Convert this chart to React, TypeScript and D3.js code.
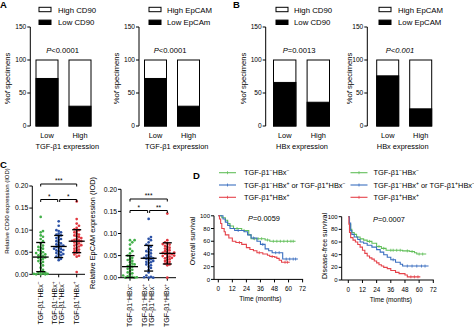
import React from 'react';
import * as d3 from 'd3';

const FONT = '"Liberation Sans", Arial, Helvetica, sans-serif';
const GREEN = '#43b04a';
const BLUE = '#2c52a6';
const RED = '#e2373f';
const KM_GREEN = '#62bf5a';
const KM_BLUE = '#3b6fc0';
const KM_RED = '#e5434b';

// ---------- Panels A & B ----------
const barCategories = ['Low', 'High'];
const barTicks = [0, 50, 100, 150];
const aCd90LowPct = [72, 30];
const aEpcamLowPct = [72, 30];
const bCd90LowPct = [66, 36];
const bEpcamLowPct = [76, 26];

// ---------- Panel C ----------
const cTicks = [0, 0.05, 0.1, 0.15, 0.2];
const cTickLabels = ['0.00', '0.05', '0.10', '0.15', '0.20'];
const cGroupLabels = [['TGF-β1^-HBx^-'], ['TGF-β1^-HBx^+', 'TGF-β1^+HBx^-'], ['TGF-β1^+HBx^+']];
const cd90Green = [0.130, 0.098, 0.095, 0.088, 0.085, 0.080, 0.075, 0.070, 0.065, 0.062, 0.060, 0.058, 0.055, 0.053, 0.050, 0.048, 0.047, 0.045, 0.043, 0.042, 0.040, 0.038, 0.037, 0.035, 0.033, 0.030, 0.028, 0.025, 0.020, 0.015, 0.010, 0.006, 0.004, 0.003, 0.002, 0.001, 0.001, 0.000, 0.000, 0.000];
const cd90Blue = [0.120, 0.110, 0.100, 0.098, 0.095, 0.092, 0.090, 0.088, 0.085, 0.082, 0.080, 0.078, 0.075, 0.072, 0.070, 0.068, 0.066, 0.065, 0.063, 0.062, 0.060, 0.058, 0.057, 0.055, 0.054, 0.052, 0.050, 0.048, 0.046, 0.045, 0.043, 0.040, 0.038, 0.035, 0.032];
const cd90Red = [0.165, 0.125, 0.115, 0.110, 0.105, 0.102, 0.100, 0.098, 0.095, 0.092, 0.090, 0.088, 0.086, 0.084, 0.082, 0.080, 0.078, 0.077, 0.076, 0.075, 0.074, 0.072, 0.070, 0.068, 0.066, 0.065, 0.063, 0.060, 0.058, 0.056, 0.054, 0.052, 0.050, 0.048, 0.045, 0.042, 0.040, 0.005];
const epGreen = [0.085, 0.085, 0.080, 0.075, 0.065, 0.060, 0.055, 0.050, 0.048, 0.045, 0.042, 0.040, 0.038, 0.035, 0.032, 0.030, 0.028, 0.026, 0.025, 0.022, 0.020, 0.018, 0.015, 0.012, 0.010, 0.008, 0.005, 0.003, 0.002, 0.001, 0.000, 0.000, 0.000];
const epBlue = [0.133, 0.092, 0.088, 0.085, 0.080, 0.075, 0.072, 0.070, 0.065, 0.062, 0.060, 0.058, 0.055, 0.052, 0.050, 0.048, 0.046, 0.045, 0.044, 0.043, 0.042, 0.040, 0.038, 0.036, 0.035, 0.033, 0.030, 0.028, 0.025, 0.022, 0.018, 0.012, 0.005, 0.002, 0.001, 0.000, 0.000];
const epRed = [0.145, 0.085, 0.080, 0.078, 0.076, 0.075, 0.072, 0.070, 0.068, 0.066, 0.064, 0.062, 0.060, 0.058, 0.057, 0.056, 0.055, 0.054, 0.053, 0.052, 0.050, 0.049, 0.048, 0.046, 0.045, 0.044, 0.042, 0.040, 0.038, 0.036, 0.034, 0.032, 0.030, 0.028, 0.000];
const cd90Mean = [0.039, 0.063, 0.075];
const cd90Sd = [0.033, 0.025, 0.026];
const epMean = [0.025, 0.044, 0.055];
const epSd = [0.025, 0.029, 0.024];

// ---------- Panel D ----------
const kmXTicks = [0, 12, 24, 36, 48, 60, 72];
const kmYTicks = [0, 20, 40, 60, 80, 100];
const kmLegend = ['TGF-β1^-HBx^-', 'TGF-β1^-HBx^+ or TGF-β1^+HBx^-', 'TGF-β1^+HBx^+'];

const osGreenT = [0, 3, 6, 8, 10, 13, 20, 26, 28, 40, 44];
const osGreenS = [100, 97, 93, 88, 84, 80, 77, 70, 64, 62, 60];
const osGreenEnd = 66;
const osGreenC = [16, 22, 31, 34, 37, 42, 47, 50, 53, 56, 59, 62, 64];
const osBlueT = [0, 4, 6, 8, 10, 14, 22, 25, 28, 33, 36, 40, 43, 46, 55];
const osBlueS = [100, 95, 90, 85, 80, 77, 75, 70, 65, 60, 55, 48, 45, 42, 32];
const osBlueEnd = 68;
const osBlueC = [17, 30, 38, 49, 52, 58, 61, 64, 66];
const osRedT = [0, 1, 2, 3, 5, 6, 9, 12, 15, 20, 24, 27, 30, 33, 38, 42, 44, 48, 50, 52, 54];
const osRedS = [100, 95, 88, 80, 75, 70, 65, 60, 58, 55, 50, 47, 45, 42, 40, 38, 36, 35, 33, 30, 27];
const osRedEnd = 61;
const osRedC = [18, 35, 46, 57, 59];

const dfsGreenT = [0, 1, 2, 3, 5, 7, 10, 13, 16, 20, 24, 28, 32, 46, 52, 56, 58];
const dfsGreenS = [100, 88, 80, 75, 72, 68, 65, 63, 61, 58, 53, 50, 47, 46, 45, 43, 41];
const dfsGreenEnd = 66;
const dfsGreenC = [18, 26, 30, 36, 38, 41, 44, 50, 54, 60, 63];
const dfsBlueT = [0, 1, 2, 3, 5, 8, 10, 13, 16, 20, 24, 27, 30, 33, 36, 40, 44, 46];
const dfsBlueS = [100, 90, 78, 72, 68, 64, 60, 58, 55, 52, 48, 44, 40, 36, 32, 28, 25, 22];
const dfsBlueEnd = 68;
const dfsBlueC = [38, 50, 54, 58, 62, 65];
const dfsRedT = [0, 0.5, 1, 2, 4, 6, 8, 10, 12, 14, 16, 18, 20, 22, 24, 26, 28, 30, 33, 36, 40, 43, 48, 50];
const dfsRedS = [100, 88, 75, 67, 63, 60, 56, 52, 47, 42, 38, 35, 33, 30, 27, 24, 22, 20, 18, 15, 12, 10, 8, 5];
const dfsRedEnd = 61;
const dfsRedC = [53, 56, 59];

// ---------- helpers ----------
function Rich({ text, fs }: { text: string; fs: number }) {
  const parts = text.split(/(\^[+-])/).filter((p) => p !== '');
  let raised = false;
  return (
    <>
      {parts.map((p, i) => {
        if (p === '^+' || p === '^-') {
          const wasRaised = raised;
          raised = true;
          return (
            <tspan key={i} fontSize={fs * 0.68} dy={wasRaised ? 0 : -fs * 0.38}>
              {p[1] === '+' ? '+' : '−'}
            </tspan>
          );
        }
        const d = raised ? fs * 0.38 : 0;
        raised = false;
        return (
          <tspan key={i} dy={d}>
            {p}
          </tspan>
        );
      })}
    </>
  );
}

type BarProps = {
  axisX: number;
  band: [number, number];
  lowVals: number[];
  legendX: number;
  legendTextX: number;
  highLabel: string;
  lowLabel: string;
  p: React.ReactNode;
  pX: number;
  xTitle: string;
  xTitleX: number;
  yLabelX: number;
};

function BarPanel(props: BarProps) {
  const y = d3.scaleLinear().domain([0, 150]).range([126, 27]);
  const x = d3.scaleBand().domain(barCategories).range(props.band).paddingInner(1 / 3);
  const fsTick = 6.6;
  return (
    <g fontFamily={FONT} fill="#000">
      <rect x={props.legendX} y={7.3} width={12} height={4.4} fill="#fff" stroke="#000" strokeWidth={1} />
      <text x={props.legendTextX} y={12.6} fontSize={7.8}>{props.highLabel}</text>
      <rect x={props.legendX} y={20.1} width={12} height={4.4} fill="#000" stroke="#000" strokeWidth={1} />
      <text x={props.legendTextX} y={25.4} fontSize={7.8}>{props.lowLabel}</text>
      <line x1={props.axisX} x2={props.axisX} y1={y(0)} y2={y(150)} stroke="#000" strokeWidth={1} />
      {barTicks.map((t) => (
        <g key={t}>
          <line x1={props.axisX - 3} x2={props.axisX} y1={y(t)} y2={y(t)} stroke="#000" strokeWidth={1} />
          <text x={props.axisX - 4} y={y(t)} dy="0.35em" fontSize={fsTick} textAnchor="end">{t}</text>
        </g>
      ))}
      <text transform={`translate(${props.yLabelX},${(y(0) + y(150)) / 2 + 2}) rotate(-90)`} fontSize={7.6} textAnchor="middle">
        %<tspan fontStyle="italic">of</tspan> specimens
      </text>
      {barCategories.map((c, i) => (
        <g key={c}>
          <rect x={x(c)} y={y(100)} width={x.bandwidth()} height={y(0) - y(100)} fill="#fff" stroke="#000" strokeWidth={1} />
          <rect x={x(c)} y={y(props.lowVals[i])} width={x.bandwidth()} height={y(0) - y(props.lowVals[i])} fill="#000" stroke="#000" strokeWidth={1} />
          <text x={(x(c) as number) + x.bandwidth() / 2} y={137.5} fontSize={7.4} textAnchor="middle">{c}</text>
        </g>
      ))}
      <text x={props.pX} y={53} fontSize={7.6} textAnchor="middle">{props.p}</text>
      <text x={props.xTitleX} y={148.5} fontSize={7.4} textAnchor="middle">{props.xTitle}</text>
    </g>
  );
}

function swarm(values: number[], y: (v: number) => number, r: number, maxOff: number) {
  const items = values.map((v, i) => ({ v, i, y: y(v) })).sort((a, b) => b.y - a.y);
  const placed: { x: number; y: number }[] = [];
  const res: { x: number; y: number }[] = new Array(values.length);
  const step = r * 1.7;
  const minD = r * 1.75;
  for (const it of items) {
    let chosen = 0;
    let bestScore = Infinity;
    for (let k = 0; k < 30; k++) {
      const off = (k % 2 === 1 ? 1 : -1) * Math.ceil(k / 2) * step;
      if (Math.abs(off) > maxOff) break;
      let overlap = 0;
      for (const p of placed) {
        const d = Math.hypot(p.x - off, p.y - it.y);
        if (d < minD) overlap += minD - d;
      }
      if (overlap === 0) {
        chosen = off;
        bestScore = 0;
        break;
      }
      if (overlap < bestScore) {
        bestScore = overlap;
        chosen = off;
      }
    }
    placed.push({ x: chosen, y: it.y });
    res[it.i] = { x: chosen, y: it.y };
  }
  return res;
}

type Bracket = { from: number; to: number; y: number; text: string; gapL?: number; gapR?: number };

type ScatterProps = {
  axisX: number;
  xRange: [number, number];
  xAxisEnd: number;
  yRange: [number, number];
  groups: number[][];
  means: number[];
  sds: number[];
  brackets: Bracket[];
  labelCols: number[][];
  labelTop: number;
  yLabel: string;
  yLabelX: number;
  yLabelY: number;
  yLabelFs: number;
};

function ScatterPanel(props: ScatterProps) {
  const y = d3.scaleLinear().domain([0, 0.2]).range(props.yRange);
  const x = d3.scalePoint<number>().domain([0, 1, 2]).range(props.xRange);
  const colors = [GREEN, BLUE, RED];
  const fsLab = 7;
  return (
    <g fontFamily={FONT}>
      <line x1={props.axisX} x2={props.axisX} y1={y(0)} y2={y(0.2)} stroke="#000" strokeWidth={1} />
      <line x1={props.axisX} x2={props.xAxisEnd} y1={y(0)} y2={y(0)} stroke="#000" strokeWidth={1} />
      {cTicks.map((t, i) => (
        <g key={t}>
          <line x1={props.axisX - 3} x2={props.axisX} y1={y(t)} y2={y(t)} stroke="#000" strokeWidth={1} />
          <text x={props.axisX - 4} y={y(t)} dy="0.35em" fontSize={6.8} textAnchor="end">{cTickLabels[i]}</text>
        </g>
      ))}
      {[0, 1, 2].map((g) => (
        <line key={g} x1={x(g)} x2={x(g)} y1={y(0)} y2={y(0) + 3} stroke="#000" strokeWidth={1} />
      ))}
      <text transform={`translate(${props.yLabelX},${props.yLabelY}) rotate(-90)`} fontSize={props.yLabelFs} textAnchor="middle">
        {props.yLabel}
      </text>
      {props.groups.map((vals, g) => {
        const pos = swarm(vals, y, 1.35, 8);
        return (
          <g key={g}>
            {pos.map((p, i) => (
              <circle key={i} cx={(x(g) as number) + p.x} cy={p.y} r={1.35} fill={colors[g]} />
            ))}
          </g>
        );
      })}
      {props.means.map((m, g) => {
        const cx = x(g) as number;
        return (
          <g key={g} stroke="#000" strokeWidth={1.3}>
            <line x1={cx} x2={cx} y1={y(Math.max(0, m - props.sds[g]))} y2={y(m + props.sds[g])} />
            <line x1={cx - 8} x2={cx + 8} y1={y(m)} y2={y(m)} />
            <line x1={cx - 4.5} x2={cx + 4.5} y1={y(m + props.sds[g])} y2={y(m + props.sds[g])} />
            <line x1={cx - 4.5} x2={cx + 4.5} y1={y(Math.max(0, m - props.sds[g]))} y2={y(Math.max(0, m - props.sds[g]))} />
          </g>
        );
      })}
      {props.brackets.map((b, i) => {
        const x1 = (x(b.from) as number) + (b.gapL || 0);
        const x2 = (x(b.to) as number) - (b.gapR || 0);
        return (
          <g key={i}>
            <path d={`M${x1},${b.y + 2.5}V${b.y}H${x2}V${b.y + 2.5}`} fill="none" stroke="#000" strokeWidth={1} />
            <text x={(x1 + x2) / 2} y={b.y - 0.8} fontSize={6.5} textAnchor="middle">{b.text}</text>
          </g>
        );
      })}
      {props.labelCols.map((cols, g) =>
        cols.map((cx, j) => (
          <text key={`${g}-${j}`} transform={`translate(${cx + 2.4},${props.labelTop}) rotate(-90)`} fontSize={fsLab} textAnchor="end">
            <Rich text={cGroupLabels[g][j]} fs={fsLab} />
          </text>
        ))
      )}
    </g>
  );
}

type KMProps = {
  axisX: number;
  x0: number;
  x72: number;
  y0: number;
  y100: number;
  curves: { t: number[]; s: number[]; end: number; c: number[]; color: string }[];
  yLabel: string;
  yLabelX: number;
  yLabelY: number;
  pText: string;
  pX: number;
  pY: number;
};

function KMPanel(props: KMProps) {
  const x = d3.scaleLinear().domain([0, 72]).range([props.x0, props.x72]);
  const y = d3.scaleLinear().domain([0, 100]).range([props.y0, props.y100]);
  const line = d3
    .line<[number, number]>()
    .x((d) => x(d[0]))
    .y((d) => y(d[1]))
    .curve(d3.curveStepAfter);
  const sAt = (t: number[], s: number[], time: number) => {
    let v = s[0];
    for (let i = 0; i < t.length; i++) if (t[i] <= time) v = s[i];
    return v;
  };
  return (
    <g fontFamily={FONT}>
      <line x1={props.axisX} x2={props.axisX} y1={y(0)} y2={y(100)} stroke="#000" strokeWidth={1} />
      <line x1={props.axisX} x2={x(72) + 0.5} y1={y(0)} y2={y(0)} stroke="#000" strokeWidth={1} />
      {kmYTicks.map((t) => (
        <g key={t}>
          <line x1={props.axisX - 3} x2={props.axisX} y1={y(t)} y2={y(t)} stroke="#000" strokeWidth={1} />
          <text x={props.axisX - 4} y={y(t)} dy="0.35em" fontSize={6} textAnchor="end">{t}</text>
        </g>
      ))}
      {kmXTicks.map((t) => (
        <g key={t}>
          <line x1={x(t)} x2={x(t)} y1={y(0)} y2={y(0) + 3} stroke="#000" strokeWidth={1} />
          <text x={x(t)} y={y(0) + 11.5} fontSize={6.3} textAnchor="middle">{t}</text>
        </g>
      ))}
      <text x={(x(0) + x(72)) / 2} y={y(0) + 22} fontSize={6.6} textAnchor="middle">Time (months)</text>
      <text transform={`translate(${props.yLabelX},${props.yLabelY}) rotate(-90)`} fontSize={7.1} textAnchor="middle">
        {props.yLabel}
      </text>
      <text x={props.pX} y={props.pY} fontSize={7.4}>
        <tspan fontStyle="italic">P</tspan>
        {props.pText}
      </text>
      {props.curves.map((cv, i) => {
        const pts: [number, number][] = cv.t.map((t, k) => [t, cv.s[k]] as [number, number]);
        pts.push([cv.end, cv.s[cv.s.length - 1]]);
        return (
          <g key={i}>
            <path d={line(pts) || ''} fill="none" stroke={cv.color} strokeWidth={1.1} />
            {cv.c.map((ct, k) => {
              const yy = y(sAt(cv.t, cv.s, ct));
              return <line key={k} x1={x(ct)} x2={x(ct)} y1={yy - 1.5} y2={yy + 1.5} stroke={cv.color} strokeWidth={0.8} />;
            })}
          </g>
        );
      })}
    </g>
  );
}

function KMLegend({ lineX, textX }: { lineX: number; textX: number }) {
  const colors = [KM_GREEN, KM_BLUE, KM_RED];
  const ys = [172.7, 185, 197.3];
  return (
    <g fontFamily={FONT}>
      {kmLegend.map((l, i) => (
        <g key={i}>
          <line x1={lineX} x2={lineX + 17} y1={ys[i]} y2={ys[i]} stroke={colors[i]} strokeWidth={1.1} />
          <line x1={lineX + 8.5} x2={lineX + 8.5} y1={ys[i] - 1.5} y2={ys[i] + 1.5} stroke={colors[i]} strokeWidth={0.8} />
          <text x={textX} y={ys[i] + 2.6} fontSize={7.4}>
            <Rich text={l} fs={7.4} />
          </text>
        </g>
      ))}
    </g>
  );
}

export default function App() {
  return (
    <svg
      width={474}
      height={329}
      viewBox="0 0 474 329"
      style={{ position: 'absolute', left: 0, top: 0, background: '#fff' }}
    >
      <rect x={0} y={0} width={474} height={329} fill="#fff" />
      <g fontFamily={FONT} fontWeight="bold" fontSize={9.5}>
        <text x={0} y={8}>A</text>
        <text x={233} y={8}>B</text>
        <text x={0} y={168}>C</text>
        <text x={193} y={178.5}>D</text>
      </g>

      <BarPanel
        axisX={30.3}
        band={[36, 91]}
        lowVals={aCd90LowPct}
        legendX={39}
        legendTextX={58}
        highLabel="High CD90"
        lowLabel="Low CD90"
        p={<><tspan fontStyle="italic">P</tspan>{'<0.0001'}</>}
        pX={62.5}
        xTitle="TGF-β1 expression"
        xTitleX={67.3}
        yLabelX={10}
      />
      <BarPanel
        axisX={139}
        band={[144.5, 199.5]}
        lowVals={aEpcamLowPct}
        legendX={149}
        legendTextX={167}
        highLabel="High EpCAM"
        lowLabel="Low EpCAm"
        p={<><tspan fontStyle="italic">P</tspan>{'<0.0001'}</>}
        pX={170}
        xTitle="TGF-β1 expression"
        xTitleX={176.7}
        yLabelX={118.5}
      />
      <BarPanel
        axisX={265.7}
        band={[273.5, 329.5]}
        lowVals={bCd90LowPct}
        legendX={276}
        legendTextX={294}
        highLabel="High CD90"
        lowLabel="Low CD90"
        p={<><tspan fontStyle="italic">P</tspan>{'=0.0013'}</>}
        pX={299}
        xTitle="HBx expression"
        xTitleX={302}
        yLabelX={245.5}
      />
      <BarPanel
        axisX={367.3}
        band={[376.7, 431.7]}
        lowVals={bEpcamLowPct}
        legendX={379}
        legendTextX={398}
        highLabel="High EpCAM"
        lowLabel="Low EpCAM"
        p={<tspan fontStyle="italic">{'P<0.001'}</tspan>}
        pX={400}
        xTitle="HBx expression"
        xTitleX={402.7}
        yLabelX={351.5}
      />

      <ScatterPanel
        axisX={32.3}
        xRange={[40.7, 76.7]}
        xAxisEnd={85}
        yRange={[274.3, 186]}
        groups={[cd90Green, cd90Blue, cd90Red]}
        means={cd90Mean}
        sds={cd90Sd}
        brackets={[
          { from: 0, to: 2, y: 184, text: '***' },
          { from: 0, to: 1, y: 199.5, text: '*', gapR: 1 },
          { from: 1, to: 2, y: 199.5, text: '*', gapL: 1 },
        ]}
        labelCols={[[40.7], [55, 61.7], [76.7]]}
        labelTop={281.5}
        yLabel="Relative CD90 expression (IOD)"
        yLabelX={9}
        yLabelY={211}
        yLabelFs={6}
      />
      <ScatterPanel
        axisX={121}
        xRange={[130, 167.3]}
        xAxisEnd={176}
        yRange={[277.7, 189.3]}
        groups={[epGreen, epBlue, epRed]}
        means={epMean}
        sds={epSd}
        brackets={[
          { from: 0, to: 2, y: 199, text: '***' },
          { from: 0, to: 1, y: 210.5, text: '*', gapR: 1 },
          { from: 1, to: 2, y: 210.5, text: '**', gapL: 1 },
        ]}
        labelCols={[[130], [145, 151.7], [167]]}
        labelTop={284}
        yLabel="Relative EpCAM expression (IOD)"
        yLabelX={95}
        yLabelY={233}
        yLabelFs={7.4}
      />

      <KMLegend lineX={219} textX={244} />
      <KMLegend lineX={350.5} textX={373.5} />

      <KMPanel
        axisX={214}
        x0={218.3}
        x72={302.6}
        y0={279.4}
        y100={215.8}
        curves={[
          { t: osGreenT, s: osGreenS, end: osGreenEnd, c: osGreenC, color: KM_GREEN },
          { t: osBlueT, s: osBlueS, end: osBlueEnd, c: osBlueC, color: KM_BLUE },
          { t: osRedT, s: osRedS, end: osRedEnd, c: osRedC, color: KM_RED },
        ]}
        yLabel="Overall survival"
        yLabelX={195}
        yLabelY={241}
        pText="=0.0059"
        pX={248}
        pY={221}
      />
      <KMPanel
        axisX={341.7}
        x0={348.3}
        x72={433.3}
        y0={280}
        y100={216.7}
        curves={[
          { t: dfsGreenT, s: dfsGreenS, end: dfsGreenEnd, c: dfsGreenC, color: KM_GREEN },
          { t: dfsBlueT, s: dfsBlueS, end: dfsBlueEnd, c: dfsBlueC, color: KM_BLUE },
          { t: dfsRedT, s: dfsRedS, end: dfsRedEnd, c: dfsRedC, color: KM_RED },
        ]}
        yLabel="Disease-free survival"
        yLabelX={326.5}
        yLabelY={246}
        pText="=0.0007"
        pX={373}
        pY={222}
      />
    </svg>
  );
}
